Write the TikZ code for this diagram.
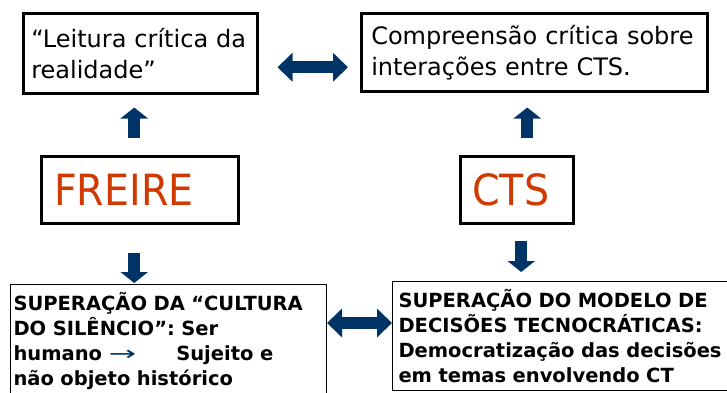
\documentclass[tikz,border=0pt]{standalone}
\usepackage{fontspec}
\usepackage{graphicx}
\setmainfont{DejaVu Sans}
\newfontfamily\keyfont[FakeStretch=0.92]{DejaVu Sans}
\usetikzlibrary{arrows.meta,calc}
\definecolor{navy}{RGB}{0,51,102}
\definecolor{freired}{RGB}{208,58,0}
\begin{document}
\begin{tikzpicture}[x=1pt,y=-1pt,
  topbox/.style={draw=black, line width=2.5pt, rectangle, anchor=north west, align=left, inner xsep=7pt, font=\fontsize{24}{31}\selectfont},
  keybox/.style={draw=black, line width=2.5pt, rectangle, anchor=north west, align=left, inner xsep=12pt, text=freired, font=\keyfont\fontsize{43}{50}\selectfont},
  lowbox/.style={draw=black, line width=1pt, rectangle, anchor=north west, align=left, inner xsep=3pt, inner ysep=8pt, font=\bfseries\fontsize{19.5}{25}\selectfont},
  vblock/.style={draw=navy, line width=12pt, -{Triangle[width=27pt,length=11pt]}},
  hblock/.style={draw=navy, line width=12pt, {Triangle[width=28pt,length=15pt]}-{Triangle[width=28pt,length=15pt]}},
]
\useasboundingbox (0,0) rectangle (727,392);
\clip (0,0) rectangle (727,392);
\fill[white] (0,0) rectangle (727,392);

\node[topbox, minimum width=234pt, minimum height=80pt, text width=218pt] (leitura) at (22,12) {“Leitura crítica da\\realidade”};
\node[topbox, minimum width=346pt, minimum height=78pt, text width=326pt] (comp) at (360,12) {Compreensão crítica sobre\\interações entre CTS.};

\node[keybox, minimum width=197pt, minimum height=67pt, text width=171pt] (freire) at (40,155) {FREIRE};
\node[keybox, minimum width=113pt, minimum height=67pt, text width=89pt] (cts) at (459,155) {CTS};

\node[lowbox, minimum width=316pt, text width=310pt] (bl) at (10,284) {SUPERAÇÃO DA “CULTURA\\DO SILÊNCIO”: Ser\\humano {\mdseries\color{navy}\scalebox{1.7}[1]{→}}\hspace{40pt}Sujeito e\\não objeto histórico};
\node[lowbox, minimum width=345pt, text width=333pt] (br) at (392,281) {SUPERAÇÃO DO MODELO DE\\DECISÕES TECNOCRÁTICAS:\\Democratização das decisões\\em temas envolvendo CT};

\draw[vblock, shorten <=17pt, shorten >=13pt] ([xshift=-5.5pt]freire.north) -- ([xshift=-5.5pt]freire.north |- leitura.south);
\draw[vblock, shorten <=17pt, shorten >=15pt] ([xshift=10.5pt]cts.north) -- ([xshift=10.5pt]cts.north |- comp.south);
\draw[vblock, shorten <=28pt, shorten >=1pt] ([xshift=-5.5pt]freire.south) -- ([xshift=-5.5pt]freire.south |- bl.north);
\draw[vblock, shorten <=16pt, shorten >=9pt] ([xshift=4.5pt]cts.south) -- ([xshift=4.5pt]cts.south |- br.north);

\draw[hblock, shorten <=19pt, shorten >=12pt] ([yshift=-14pt]leitura.east) -- ([yshift=-14pt]leitura.east -| comp.west);
\draw[hblock] (bl.east |- 0,323) -- (br.west |- 0,323);
\end{tikzpicture}
\end{document}
